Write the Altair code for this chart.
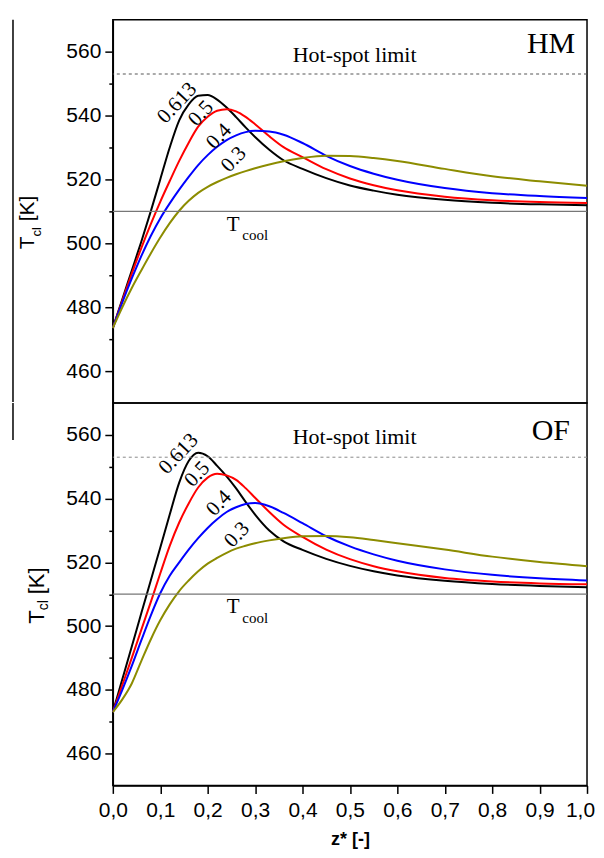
import altair as alt
import pandas as pd

# ---------------- data ----------------
z_grid = [0.0, 0.02, 0.04, 0.06, 0.08, 0.10, 0.12, 0.14, 0.16, 0.18, 0.20, 0.22, 0.24,
          0.26, 0.28, 0.30, 0.33, 0.36, 0.40, 0.45, 0.50, 0.55, 0.60, 0.70, 0.80, 0.90, 1.00]

# HM panel
hm_0613 = [473.5, 482.5, 491.5, 500.5, 510.0, 520.0, 530.0, 538.5, 543.5, 546.2, 546.4, 545.0, 542.5,
           539.5, 536.3, 533.3, 529.3, 526.0, 523.3, 520.4, 518.1, 516.5, 515.2, 513.6, 512.7, 512.2, 511.9]
hm_05 = [473.5, 482.0, 490.5, 498.5, 506.0, 513.0, 519.5, 525.8, 531.5, 536.5, 539.6, 541.5, 542.0,
         541.3, 539.6, 537.3, 533.5, 530.1, 527.0, 523.2, 520.3, 518.2, 516.6, 514.6, 513.5, 512.9, 512.6]
hm_04 = [473.5, 481.5, 489.0, 496.0, 502.3, 507.8, 512.5, 516.8, 520.8, 524.5, 527.6, 530.2, 532.3,
         533.8, 534.8, 535.2, 535.0, 534.0, 531.4, 527.4, 524.2, 521.8, 519.9, 517.3, 515.7, 514.8, 514.2]
hm_03 = [473.5, 480.0, 486.0, 491.5, 496.8, 501.8, 506.3, 510.2, 513.3, 515.8, 517.7, 519.2, 520.5,
         521.6, 522.6, 523.5, 524.7, 525.7, 526.7, 527.4, 527.3, 526.7, 525.8, 523.3, 521.0, 519.4, 518.0]

# OF panel
of_0613 = [473.0, 483.3, 493.6, 504.0, 514.3, 524.6, 535.0, 545.0, 551.8, 554.4, 553.3, 550.3, 547.0,
           543.2, 539.0, 535.0, 530.0, 526.6, 523.9, 521.1, 518.9, 517.2, 515.9, 514.2, 513.2, 512.6, 512.2]
of_05 = [473.0, 481.5, 490.0, 498.8, 507.5, 516.5, 525.2, 532.5, 538.5, 543.5, 546.6, 547.8, 547.3,
         545.9, 543.3, 540.3, 535.8, 531.8, 528.0, 524.0, 521.0, 518.8, 517.2, 515.1, 514.0, 513.4, 513.1]
of_04 = [473.0, 480.0, 487.5, 495.5, 503.3, 510.3, 515.8, 520.0, 524.0, 527.6, 530.8, 533.5, 535.8,
         537.3, 538.3, 538.6, 537.6, 535.5, 532.3, 528.2, 525.0, 522.5, 520.5, 517.8, 516.1, 515.0, 514.3]
of_03 = [473.0, 477.0, 482.0, 489.0, 495.8, 501.8, 506.8, 511.0, 514.3, 517.2, 519.6, 521.4, 523.0,
         524.3, 525.2, 526.0, 526.9, 527.6, 528.2, 528.3, 527.9, 527.0, 526.0, 524.0, 521.8, 520.1, 518.8]

phi_labels = ["0.613", "0.5", "0.4", "0.3"]
line_colors = ["#000000", "#ff0000", "#0000ff", "#8c8c00"]

hot_spot_limit = [553]
t_cool = [510]

x_ticks = [0.0, 0.1, 0.2, 0.3, 0.4, 0.5, 0.6, 0.7, 0.8, 0.9, 1.0]
y_ticks = [460, 470, 480, 490, 500, 510, 520, 530, 540, 550, 560]

# label anchor positions (z, T)
hm_label_z = [0.136, 0.186, 0.224, 0.255]
hm_label_T = [543.9, 540.6, 533.4, 526.2]
of_label_z = [0.139, 0.178, 0.224, 0.262]
of_label_T = [554.0, 547.6, 538.5, 528.6]

# ---------------- helpers ----------------
xs = alt.Scale(domain=[0, 1], nice=False, zero=False)
ys = alt.Scale(domain=[450, 570], nice=False, zero=False)

major_test = "datum.value % 20 === 0"
yaxis = alt.Axis(
    values=y_ticks, title=None, grid=False, labelFlush=False,
    labelExpr=f"({major_test}) ? datum.label : ''",
    labelFontSize={"condition": {"test": major_test, "value": 21}, "value": 0},
    tickSize={"condition": {"test": major_test, "value": 8}, "value": 4},
    labelPadding=4, labelFont="Liberation Sans", labelColor="black",
    tickColor="black", tickWidth=1.5, domainColor="black", domainWidth=1.5,
)
xaxis_bottom = alt.Axis(
    values=x_ticks, title="z* [-]", grid=False, labelFlush=False,
    labelExpr="replace(format(datum.value, '.1f'), '.', ',')",
    labelOffset={"condition": {"test": "datum.value >= 0.99", "value": -7}, "value": 0},
    tickSize=8, labelPadding=6, labelFontSize=21, labelFont="Liberation Sans", labelColor="black",
    tickColor="black", tickWidth=1.5, domainColor="black", domainWidth=1.5,
    titleFont="Liberation Sans", titleFontSize=18, titleFontWeight="bold", titleColor="black",
    titlePadding=10,
)


def long_df(series):
    rows = []
    for lab, vals in zip(phi_labels, series):
        for z, t in zip(z_grid, vals):
            rows.append({"z": z, "T": t, "phi": lab})
    return pd.DataFrame(rows)


def panel(series, lab_z, lab_T, corner, corner_z, corner_T, hs_T, hs_color, show_x, title_geo, art_y, art_y2, height):
    X = alt.X("z:Q", scale=xs, axis=xaxis_bottom if show_x else None)
    Y = alt.Y("T:Q", scale=ys, axis=yaxis)

    lines = alt.Chart(long_df(series)).mark_line(strokeWidth=2, interpolate="monotone").encode(
        x=X, y=Y,
        color=alt.Color("phi:N", scale=alt.Scale(domain=phi_labels, range=line_colors), legend=None),
        order=alt.Order("z:Q"),
    )
    hot = alt.Chart(pd.DataFrame({"T": hot_spot_limit})).mark_rule(
        color=hs_color, strokeWidth=1, strokeDash=[3, 3]).encode(y=Y)
    cool = alt.Chart(pd.DataFrame({"T": t_cool})).mark_rule(
        color="#777777", strokeWidth=1.3).encode(y=Y)

    labels = alt.Chart(pd.DataFrame({"z": lab_z, "T": lab_T, "lab": phi_labels})).mark_text(
        font="Liberation Serif", fontSize=21, angle=313, align="center", baseline="middle", color="black"
    ).encode(x=X, y=Y, text="lab:N")

    hs_text = alt.Chart(pd.DataFrame({"z": [0.51], "T": [hs_T], "s": ["Hot-spot limit"]})).mark_text(
        font="Liberation Serif", fontSize=22, align="center", baseline="alphabetic", color="black"
    ).encode(x=X, y=Y, text="s:N")

    corner_text = alt.Chart(pd.DataFrame({"z": [corner_z], "T": [corner_T], "s": [corner]})).mark_text(
        font="Liberation Serif", fontSize=30, align="right", baseline="alphabetic", color="black"
    ).encode(x=X, y=Y, text="s:N")

    tc_T = alt.Chart(pd.DataFrame({"z": [0.24], "T": [504.0], "s": ["T"]})).mark_text(
        font="Liberation Serif", fontSize=21, align="left", baseline="alphabetic", color="black"
    ).encode(x=X, y=Y, text="s:N")
    tc_sub = alt.Chart(pd.DataFrame({"z": [0.273], "T": [500.9], "s": ["cool"]})).mark_text(
        font="Liberation Serif", fontSize=15, align="left", baseline="alphabetic", color="black"
    ).encode(x=X, y=Y, text="s:N")

    tx, ty, fs, sx = title_geo
    t1 = alt.Chart(pd.DataFrame({"s": ["T"]})).mark_text(
        font="Liberation Sans", fontSize=fs, angle=270, align="left", baseline="alphabetic", color="black"
    ).encode(x=alt.value(tx), y=alt.value(ty), text="s:N")
    t2 = alt.Chart(pd.DataFrame({"s": ["cl"]})).mark_text(
        font="Liberation Sans", fontSize=round(fs * 0.62), angle=270, align="left", baseline="alphabetic", color="black"
    ).encode(x=alt.value(tx + sx), y=alt.value(ty - fs * 0.61), text="s:N")
    t3 = alt.Chart(pd.DataFrame({"s": ["[K]"]})).mark_text(
        font="Liberation Sans", fontSize=fs, angle=270, align="left", baseline="alphabetic", color="black"
    ).encode(x=alt.value(tx), y=alt.value(ty - fs * 0.61 - fs * 0.45 - fs * 0.28), text="s:N")

    artifact = alt.Chart(pd.DataFrame({"a": [0]})).mark_rule(color="black", strokeWidth=1.5).encode(
        x=alt.value(-100), y=alt.value(art_y), y2=alt.value(art_y2))

    return alt.layer(lines, hot, cool, labels, hs_text, corner_text, tc_T, tc_sub, t1, t2, t3, artifact).properties(
        width=475, height=height)


top = panel([hm_0613, hm_05, hm_04, hm_03], hm_label_z, hm_label_T, "HM", 0.975, 559.5, 556.9, "#555555", False,
            (-79, 230, 21, 7), 0, 383, 384)
bottom = panel([of_0613, of_05, of_04, of_03], of_label_z, of_label_T, "OF", 0.964, 558.3, 557.2, "#8a8a8a", True,
               (-69, 221, 22, 4), 0, 37, 383)

chart = alt.vconcat(top, bottom, spacing=0, bounds="flush").properties(
    padding={"left": 3, "top": 9, "right": 0, "bottom": 0}, background="white"
).configure_view(stroke="black", strokeWidth=1.5)

chart.save("out.html", embed_options={"renderer": "svg", "actions": False})
